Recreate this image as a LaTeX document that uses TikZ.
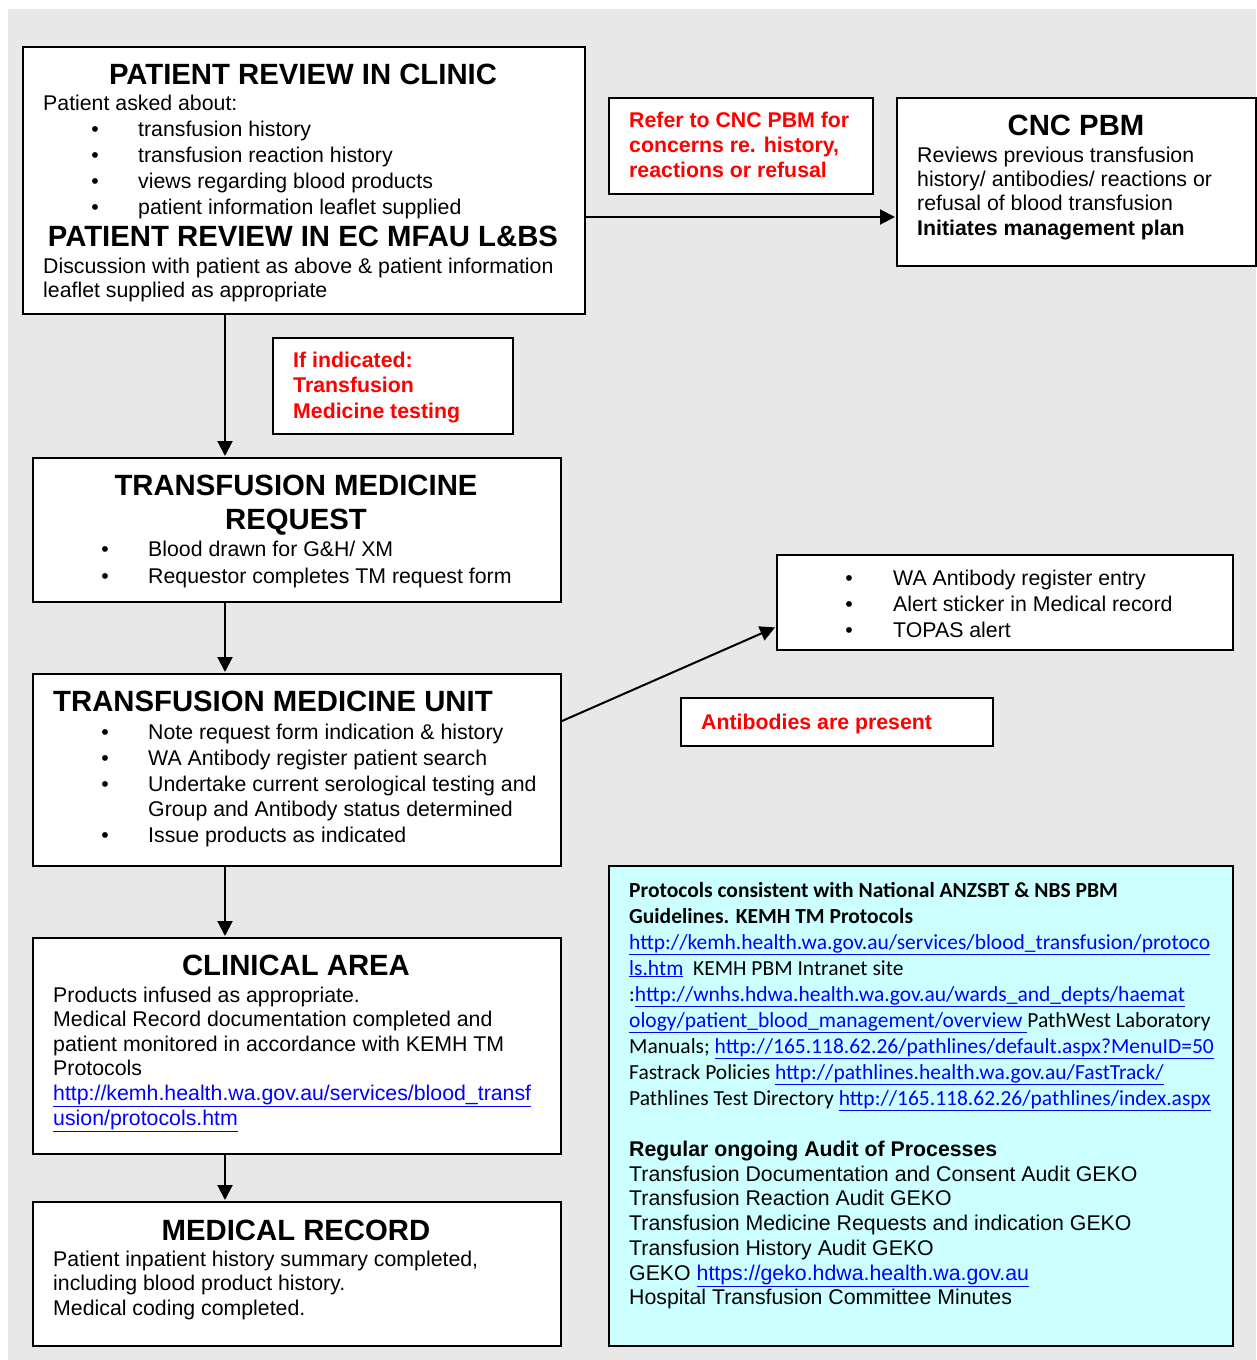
\documentclass[tikz,border=0pt]{standalone}
\usepackage{fontspec}
\setmainfont{Liberation Sans}
\newfontfamily\calib{Carlito}
\usetikzlibrary{arrows.meta,calc}
\definecolor{bg}{HTML}{E8E8E8}
\definecolor{cyanfill}{HTML}{CCFFFF}
\definecolor{linkblue}{HTML}{0000FF}
\definecolor{redtxt}{HTML}{FF0000}
\newcommand\ulink[1]{\textcolor{linkblue}{\underline{#1}}}
\tikzset{
  box/.style={draw=black, line width=2pt, fill=white, anchor=north west, inner sep=0pt},
  body/.style={font=\fontsize{21.3}{24.6}\selectfont, inner sep=0pt, anchor=base west},
  bodyb/.style={body, font=\bfseries\fontsize{21.3}{24.6}\selectfont},
  ttl/.style={font=\bfseries\fontsize{29.3}{33}\selectfont, inner sep=0pt, anchor=base},
  redt/.style={body, font=\bfseries\fontsize{21.3}{24.6}\selectfont, text=redtxt},
  bul/.style={font=\fontsize{21.3}{24.6}\selectfont, inner sep=0pt, anchor=base},
  cal/.style={font=\calib\fontsize{21.5}{26}\selectfont, inner sep=0pt, anchor=base west},
  calb/.style={cal, font=\calib\bfseries\fontsize{21.5}{26}\selectfont},
  arr/.style={line width=2pt, -{Triangle[length=15pt,width=15pt]}, shorten >=1pt},
}
\begin{document}
\begin{tikzpicture}[x=1pt,y=-1pt]
\useasboundingbox (0,0) rectangle (1256,1360);
\fill[white] (0,0) rectangle (1256,1360);
\fill[bg] (8,9) rectangle (1256,1360);

% ---------- boxes ----------
\node[box, minimum width=562pt, minimum height=267pt] (b1) at (22,46) {};
\node[box, minimum width=264pt, minimum height=96pt] (refer) at (608,97) {};
\node[box, minimum width=359pt, minimum height=168pt] (cnc) at (896,97) {};
\node[box, minimum width=240pt, minimum height=96pt] (ifind) at (272,337) {};
\node[box, minimum width=528pt, minimum height=144pt] (b2) at (32,457) {};
\node[box, minimum width=528pt, minimum height=192pt] (b3) at (32,673) {};
\node[box, minimum width=456pt, minimum height=95pt] (ab) at (776,554) {};
\node[box, minimum width=312pt, minimum height=48pt] (abp) at (680,697) {};
\node[box, minimum width=528pt, minimum height=216pt] (b4) at (32,937) {};
\node[box, minimum width=528pt, minimum height=144pt] (b5) at (32,1201) {};
\node[box, fill=cyanfill, line width=2.2pt, minimum width=624pt, minimum height=480pt] (cy) at (608,865) {};

% ---------- connectors ----------
\coordinate (spine) at (225,0);
\coordinate (hy) at (0,217);
\coordinate (d1) at (0,721);
\coordinate (d2) at (0,627);
\draw[arr] (b1.south -| spine) -- (b2.north -| spine);
\draw[arr] (b2.south -| spine) -- (b3.north -| spine);
\draw[arr] (b3.south -| spine) -- (b4.north -| spine);
\draw[arr] (b4.south -| spine) -- (b5.north -| spine);
\draw[arr] (b1.east |- hy) -- (cnc.west |- hy);
\draw[arr] (b3.east |- d1) -- (ab.west |- d2);

% ---------- box 1 ----------
\node[ttl] (b1t) at (303,84.5) {PATIENT REVIEW IN CLINIC};
\node[body] (b1a) at (43,110.5) {Patient asked about:};
\foreach \txt [count=\i] in {transfusion history, transfusion reaction history, views regarding blood products, patient information leaflet supplied}{
  \node[bul] (b1d\i) at (95,{110.5+26*\i}) {•};
  \node[body] (b1l\i) at (138,{110.5+26*\i}) {\txt};
}
\node[ttl] (b1t2) at (303,246.5) {PATIENT REVIEW IN EC MFAU L\&BS};
\node[body] (b1c) at (43,273.5) {Discussion with patient as above \& patient information};
\node[body] (b1e) at (43,297.5) {leaflet supplied as appropriate};

% ---------- refer ----------
\node[redt] (rf1) at (629,127.5) {Refer to CNC PBM for};
\node[redt] (rf2) at (629,152.5) {concerns re. history,};
\node[redt] (rf3) at (629,177.5) {reactions or refusal};

% ---------- CNC PBM ----------
\node[ttl] (cnct) at (1076,135.5) {CNC PBM};
\node[body] (cn1) at (917,162.5) {Reviews previous transfusion};
\node[body] (cn2) at (917,186.5) {history/ antibodies/ reactions or};
\node[body] (cn3) at (917,210.5) {refusal of blood transfusion};
\node[bodyb] (cn4) at (917,235.5) {Initiates management plan};

% ---------- if indicated ----------
\node[redt] (if1) at (293,367.5) {If indicated:};
\node[redt] (if2) at (293,392.5) {Transfusion};
\node[redt] (if3) at (293,418.5) {Medicine testing};

% ---------- box 2 ----------
\node[ttl] (b2t1) at (296,495.5) {TRANSFUSION MEDICINE};
\node[ttl] (b2t2) at (296,529.5) {REQUEST};
\foreach \txt [count=\i] in {Blood drawn for G\&H/ XM, Requestor completes TM request form}{
  \node[bul] (b2d\i) at (105,{529.5+27*\i}) {•};
  \node[body] (b2l\i) at (148,{529.5+27*\i}) {\txt};
}

% ---------- box 3 ----------
\node[ttl, anchor=base west] (b3t) at (53,711.5) {TRANSFUSION MEDICINE UNIT};
\node[bul] (b3d1) at (105,739.5) {•};
\node[body] (b3l1) at (148,739.5) {Note request form indication \& history};
\node[bul] (b3d2) at (105,765.5) {•};
\node[body] (b3l2) at (148,765.5) {WA Antibody register patient search};
\node[bul] (b3d3) at (105,791.5) {•};
\node[body] (b3l3) at (148,791.5) {Undertake current serological testing and};
\node[body] (b3l4) at (148,816.5) {Group and Antibody status determined};
\node[bul] (b3d5) at (105,842.5) {•};
\node[body] (b3l5) at (148,842.5) {Issue products as indicated};

% ---------- antibody actions ----------
\foreach \txt [count=\i] in {WA Antibody register entry, Alert sticker in Medical record, TOPAS alert}{
  \node[bul] (abd\i) at (849,{559.5+26*\i}) {•};
  \node[body] (abl\i) at (893,{559.5+26*\i}) {\txt};
}
\node[redt] (abpt) at (701,729.5) {Antibodies are present};

% ---------- box 4 ----------
\node[ttl] (b4t) at (296,975.5) {CLINICAL AREA};
\node[body] (b4l1) at (53,1002.5) {Products infused as appropriate.};
\node[body] (b4l2) at (53,1026.5) {Medical Record documentation completed and};
\node[body] (b4l3) at (53,1051.5) {patient monitored in accordance with KEMH TM};
\node[body] (b4l4) at (53,1075.5) {Protocols};
\node[body] (b4l5) at (53,1100.5) {\ulink{http://kemh.health.wa.gov.au/services/blood\_transf}};
\node[body] (b4l6) at (53,1125.5) {\ulink{usion/protocols.htm}};

% ---------- box 5 ----------
\node[ttl] (b5t) at (296,1240.5) {MEDICAL RECORD};
\node[body] (b5l1) at (53,1266.5) {Patient inpatient history summary completed,};
\node[body] (b5l2) at (53,1290.5) {including blood product history.};
\node[body] (b5l3) at (53,1315.5) {Medical coding completed.};

% ---------- cyan box ----------
\node[calb] (cy1) at (629,897) {Protocols consistent with National ANZSBT \& NBS PBM};
\node[calb] (cy2) at (629,923) {Guidelines. KEMH TM Protocols};
\node[cal] (cy3) at (629,949) {\ulink{http://kemh.health.wa.gov.au/services/blood\_transfusion/protoco}};
\node[cal] (cy4) at (629,975) {\ulink{ls.htm}\ \ KEMH PBM Intranet site};
\node[cal] (cy5) at (629,1001) {:\ulink{http://wnhs.hdwa.health.wa.gov.au/wards\_and\_depts/haemat}};
\node[cal] (cy6) at (629,1027) {\ulink{ology/patient\_blood\_management/overview\ }PathWest Laboratory};
\node[cal] (cy7) at (629,1053) {Manuals; \ulink{http://165.118.62.26/pathlines/default.aspx?MenuID=50}};
\node[cal] (cy8) at (629,1079) {Fastrack Policies \ulink{http://pathlines.health.wa.gov.au/FastTrack/}};
\node[cal] (cy9) at (629,1105) {Pathlines Test Directory \ulink{http://165.118.62.26/pathlines/index.aspx}};
\node[bodyb] (au0) at (629,1156.5) {Regular ongoing Audit of Processes};
\node[body] (au1) at (629,1181.5) {Transfusion Documentation and Consent Audit GEKO};
\node[body] (au2) at (629,1205.5) {Transfusion Reaction Audit GEKO};
\node[body] (au3) at (629,1230.5) {Transfusion Medicine Requests and indication GEKO};
\node[body] (au4) at (629,1255.5) {Transfusion History Audit GEKO};
\node[body] (au5) at (629,1280.5) {GEKO \ulink{https://geko.hdwa.health.wa.gov.au}};
\node[body] (au6) at (629,1304.5) {Hospital Transfusion Committee Minutes};
\end{tikzpicture}
\end{document}
